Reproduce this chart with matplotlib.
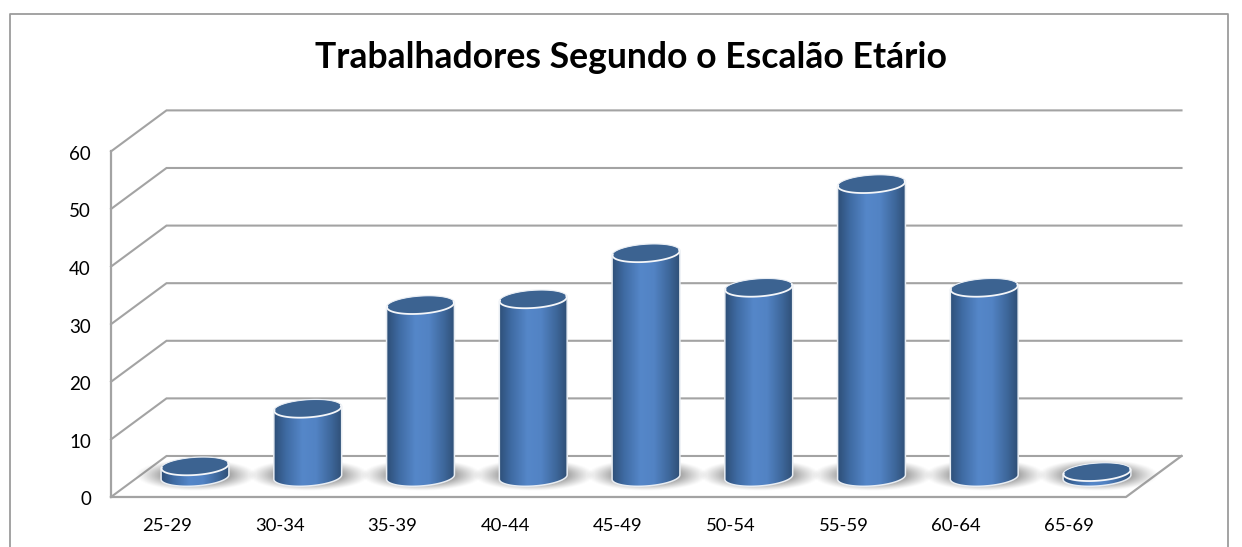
import numpy as np
import matplotlib
matplotlib.use("Agg")
import matplotlib.pyplot as plt
from matplotlib.colors import LinearSegmentedColormap
from matplotlib.patches import Polygon

plt.rcParams['font.family'] = ['Lato', 'DejaVu Sans']

categories = ['25-29', '30-34', '35-39', '40-44', '45-49', '50-54', '55-59', '60-64', '65-69']
values = [2, 12, 30, 31, 39, 33, 51, 33, 1]
y_ticks = [0, 10, 20, 30, 40, 50, 60]
title = 'Trabalhadores Segundo o Escalão Etário'

W, H = 1242, 547
PX_X = 112.75  # px per category
PX_Y = 5.76    # px per unit
X0, Y0 = 195, 477  # pixel position of first category, value 0

fig = plt.figure(figsize=(W / 100, H / 100), dpi=100)
ax = fig.add_axes([0, 0, 1, 1])
ax.set_xlim(-X0 / PX_X, (W - X0) / PX_X)
ax.set_ylim((Y0 - H) / PX_Y, Y0 / PX_Y)
ax.axis('off')


def dx(p):
    return p / PX_X


def dy(p):
    return p / PX_Y


def ell(cx, cy, a, b, tilt, t=None):
    # tilted ellipse, a and b in pixels, returned in data coords
    if t is None:
        t = np.linspace(0, 2 * np.pi, 120)
    px = a * np.cos(t)
    py = b * np.sin(t)
    r = np.radians(tilt)
    return cx + dx(px * np.cos(r) - py * np.sin(r)), cy + dy(px * np.sin(r) + py * np.cos(r))


# frame
frame = '#9c9c9c'
fx = lambda p: (p - X0) / PX_X
fy = lambda p: (Y0 - p) / PX_Y
ax.plot([fx(9.5), fx(9.5), fx(1227.5), fx(1227.5)], [fy(547), fy(14.5), fy(14.5), fy(547)],
        color=frame, lw=1.3, zorder=1, clip_on=False)

# walls and floor
grid = '#a3a3a3'
left, right = fx(111), fx(1126)
off_x, off_y = dx(55.5), dy(41)
for v in y_ticks:
    ax.plot([left, left + off_x, right + off_x], [v - 3.47, v - 3.47 + off_y, v - 3.47 + off_y],
            color=grid, lw=1.5, zorder=2, solid_joinstyle='miter')
    ax.text(left - dx(20), v - 3.47 - dy(3), str(v), ha='right', va='center', fontsize=13.5, color='black')
ax.plot([left, left], [-3.47, 60 - 3.47], color=grid, lw=1.6, zorder=2)
ax.plot([left, right, right + off_x], [-3.47, -3.47, -3.47 + off_y], color=grid, lw=1.6, zorder=2)

# shadow under each cylinder
sx = np.linspace(-1, 1, 160)
sy = np.linspace(-1, 1, 80)
gx, gy = np.meshgrid(sx, sy)
sh = np.clip(1.9 * (1 - np.sqrt(gx ** 2 + gy ** 2)), 0, 1) ** 1.2
sh_rgba = np.zeros(sh.shape + (4,))
sh_rgba[..., :3] = 0.42
sh_rgba[..., 3] = sh * 0.75

cyl = LinearSegmentedColormap.from_list('cyl', [
    (0, '#2e4f78'), (0.18, '#3f6ba3'), (0.42, '#5587c9'), (0.62, '#5283c4'),
    (0.85, '#3d6699'), (1, '#2f4f76')])
grad = np.linspace(0, 1, 256).reshape(1, -1)

half = 34
for i, v in enumerate(values):
    ax.imshow(sh_rgba, extent=[i - dx(60), i + dx(62), -dy(14), dy(18)],
              aspect='auto', zorder=3, interpolation='bilinear')

    # body: lower half of base ellipse, upper half of top ellipse
    bx, by = ell(i, 0, half, 9, 4, np.linspace(np.pi, 2 * np.pi, 60))
    tx, ty = ell(i, v - dy(1), half, 9, 4, np.linspace(0, np.pi, 60))
    body = Polygon(np.column_stack([np.r_[bx, tx], np.r_[by, ty]]), closed=True,
                   facecolor='none', edgecolor='#e8edf3', lw=1.1, zorder=6)
    ax.add_patch(body)
    im = ax.imshow(grad, extent=[i - dx(half), i + dx(half), -dy(11), v + dy(11)], cmap=cyl,
                   aspect='auto', zorder=5, interpolation='bilinear')
    im.set_clip_path(body)

    # top face
    ex, ey = ell(i, v - dy(1), half - 0.5, 8.5, 4)
    ax.fill(ex, ey, color='#3c6391', zorder=7, lw=0)
    rx, ry = ell(i, v - dy(1), half - 0.5, 8.5, 4, np.linspace(np.pi * 0.95, 2.05 * np.pi, 60))
    ax.plot(rx, ry, color='#f4f6f9', lw=1.3, zorder=8, solid_capstyle='round')

    ax.text(i - dx(28), fy(526), categories[i], ha='center', va='center', fontsize=13.3, color='black')

ax.set_xlim(-X0 / PX_X, (W - X0) / PX_X)
ax.set_ylim((Y0 - H) / PX_Y, Y0 / PX_Y)

ax.text(fx(631), fy(58), title, ha='center', va='center', fontsize=25.6, fontweight='bold', color='black')

fig.savefig('out.png', dpi=100)
